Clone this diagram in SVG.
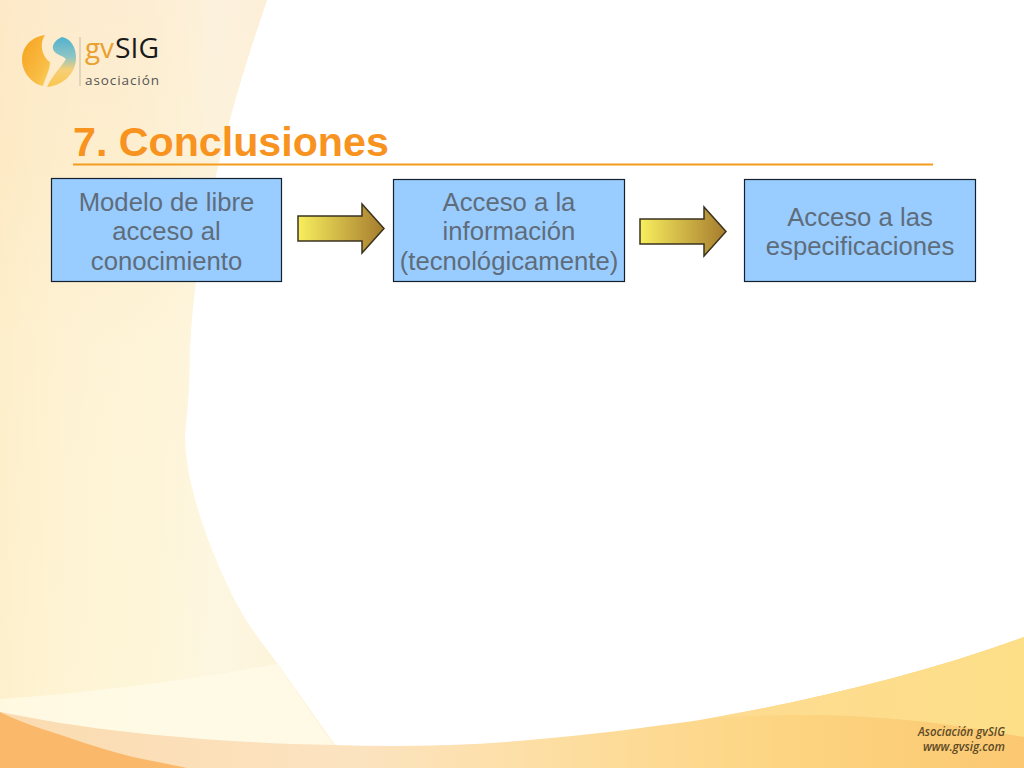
<svg xmlns="http://www.w3.org/2000/svg" width="1024" height="768" viewBox="0 0 1024 768">
<defs>
<linearGradient id="panelV" x1="0" y1="0" x2="0" y2="1"><stop offset="0" stop-color="#fdebd0"/><stop offset="0.2" stop-color="#fdedcd"/><stop offset="0.45" stop-color="#fef3d6"/><stop offset="1" stop-color="#fef6d8"/></linearGradient>
<linearGradient id="panelH" gradientUnits="userSpaceOnUse" x1="0" y1="0" x2="270" y2="0"><stop offset="0" stop-color="#fde3b0" stop-opacity="0.3"/><stop offset="0.45" stop-color="#fff6d8" stop-opacity="0.1"/><stop offset="0.8" stop-color="#fbf8ea" stop-opacity="0.5"/><stop offset="1" stop-color="#fdf3e0" stop-opacity="0.5"/></linearGradient>
<linearGradient id="band" gradientUnits="userSpaceOnUse" x1="30" y1="0" x2="1024" y2="0"><stop offset="0" stop-color="#fbdcb2"/><stop offset="0.33" stop-color="#fce3c0"/><stop offset="0.5" stop-color="#fddfa6"/><stop offset="0.75" stop-color="#fdd582"/><stop offset="1" stop-color="#fbc871"/></linearGradient>
<linearGradient id="strip" gradientUnits="userSpaceOnUse" x1="700" y1="0" x2="1024" y2="0"><stop offset="0" stop-color="#fddb92"/><stop offset="1" stop-color="#fddf88"/></linearGradient>
<linearGradient id="arrow" x1="0" y1="0" x2="1" y2="0"><stop offset="0" stop-color="#f8ee5e"/><stop offset="1" stop-color="#a67c2e"/></linearGradient>
<linearGradient id="c1" x1="0" y1="0" x2="1" y2="1"><stop offset="0" stop-color="#f6a21e"/><stop offset="0.7" stop-color="#f9bd45"/><stop offset="1" stop-color="#fbd465"/></linearGradient>
<linearGradient id="c2" x1="0" y1="0" x2="0" y2="1"><stop offset="0" stop-color="#4fb2cf"/><stop offset="0.4" stop-color="#8fc5c4"/><stop offset="0.65" stop-color="#f5cf78"/><stop offset="1" stop-color="#fbc64e"/></linearGradient>
<path id="panelShape" d="M0 0H267C250 50 232 105 215 180C200 240 190 310 189.500 370C189 395 187 415 185 435C185 480 205 540 233 597C250 630 264 645 277 663L333 742L353 768H0Z"/>
</defs>
<style>
.box{fill:#99ccff;stroke:#14202e;stroke-width:1.2}
.lbl{font-family:"Liberation Sans",Arial,sans-serif;font-size:25.7px;fill:#5f6d7b;text-anchor:middle}
.arr{fill:url(#arrow);stroke:#3a3320;stroke-width:1.5}
.logo{font-family:"Open Sans","Liberation Sans",sans-serif}
.foot{font-family:"Open Sans","Liberation Sans",sans-serif;font-size:12px;font-style:italic;font-weight:600;fill:#5c4a26;text-anchor:end}
</style>
<g id="background">
<rect width="1024" height="768" fill="#ffffff"/>
<use href="#panelShape" fill="url(#panelV)"/>
<use href="#panelShape" fill="url(#panelH)"/>
<path d="M0 699C95 692 190 680 277 664L333 745H0Z" fill="#fffbe8" opacity="0.75"/>
<path d="M0 712L43 720C110 732 220 743 333 745C400 747 470 746 540 739C590 735 650 727 700 720C800 703 920 675 1024 637V768H0Z" fill="url(#band)"/>
<path d="M700 720C800 703 920 675 1024 637V737C960 725 880 714 800 715C760 715 730 717 700 720Z" fill="url(#strip)"/>
<path d="M0 712C20 722 45 730 67 737C90 745 110 751 133 757C150 761 170 764 187 768H0Z" fill="#fab96a"/>
</g>
<g id="logo">
<path d="M45 35C30 37 22 48 22 60C22 72 32 84 43 86C46 76 50 70 50 62C44 58 38 46 45 35Z" fill="url(#c1)"/>
<path d="M62 37C55 40 52 45 53 49C55 55 62 55 66 59C62 66 53 74 47 87C62 86 76 74 76 58C76 47 71 39 62 37Z" fill="url(#c2)"/>
<rect x="79.500" y="37" width="1" height="49" fill="#c4bba8"/>
<text class="logo" x="85" y="58" font-size="28" fill="#e8a030" textLength="29" lengthAdjust="spacingAndGlyphs">gv</text>
<text class="logo" x="115" y="58" font-size="28" fill="#1a1a1a" textLength="44" lengthAdjust="spacingAndGlyphs">SIG</text>
<text class="logo" x="85" y="85" font-size="13.500" fill="#555" textLength="74">asociación</text>
</g>
<g id="title">
<text x="73" y="156" font-family="'Liberation Sans',Arial,sans-serif" font-size="41.200" font-weight="bold" fill="#f7931e">7. Conclusiones</text>
<rect x="73" y="163.500" width="860" height="2" fill="#f39c1f"/>
</g>
<g id="node1"><rect class="box" x="51.500" y="178.500" width="230" height="103"/>
<text class="lbl" x="166.500" y="210.500">Modelo de libre</text><text class="lbl" x="166.500" y="240">acceso al</text><text class="lbl" x="166.500" y="269.500">conocimiento</text></g>
<g id="node2"><rect class="box" x="393.500" y="179.500" width="231" height="102"/>
<text class="lbl" x="509" y="210.500">Acceso a la</text><text class="lbl" x="509" y="240">información</text><text class="lbl" x="509" y="269.500">(tecnológicamente)</text></g>
<g id="node3"><rect class="box" x="744.500" y="179.500" width="231" height="102"/>
<text class="lbl" x="860" y="225.500">Acceso a las</text><text class="lbl" x="860" y="255">especificaciones</text></g>
<g id="connectors">
<path class="arr" d="M298 216H362V204L384 228.500L362 253V241H298Z"/>
<path class="arr" d="M640 219H704V207L726 231.500L704 256V244H640Z"/>
</g>
<g id="footer">
<text class="foot" x="1005" y="736" textLength="87" lengthAdjust="spacingAndGlyphs">Asociación gvSIG</text>
<text class="foot" x="1005" y="751" textLength="82" lengthAdjust="spacingAndGlyphs">www.gvsig.com</text>
</g>
</svg>
